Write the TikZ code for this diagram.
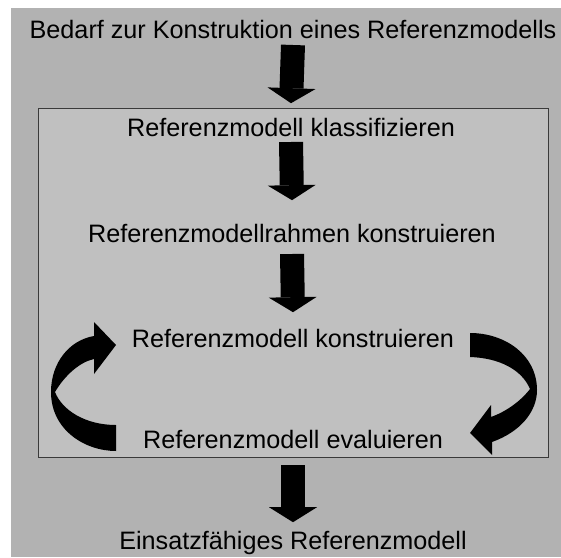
\documentclass[tikz,border=0pt]{standalone}
\usepackage{fontspec}
\setmainfont{Liberation Sans}
\usetikzlibrary{arrows.meta}
\definecolor{outergray}{HTML}{B2B2B2}
\definecolor{innergray}{HTML}{C0C0C0}
\definecolor{framegray}{HTML}{3A3A3A}
\begin{document}
\begin{tikzpicture}[x=0.5pt,y=-0.5pt,
  every node/.style={font=\fontsize{12.6}{15}\selectfont, inner sep=0pt, text height=9pt, text depth=0pt, anchor=south},
  blockarrow/.style={line width=12pt, -{Triangle[length=7.5pt,width=24pt,line width=0pt]}}]
\useasboundingbox (0,0) rectangle (561,557);
\fill[white] (0,0) rectangle (561,557);
\fill[outergray] (11,8) rectangle (561,557);
\draw[line width=0.5pt, draw=framegray, fill=innergray] (38,108) rectangle (548,457);
% steps
\node (bedarf) at (293,39) {Bedarf zur Konstruktion eines Referenzmodells};
\node (klass) at (291,137) {Referenzmodell klassifizieren};
\node (rahmen) at (292,243) {Referenzmodellrahmen konstruieren};
\node (konstr) at (293,348) {Referenzmodell konstruieren};
\node (eval) at (293,449) {Referenzmodell evaluieren};
\node (einsatz) at (293,550) {Einsatzfähiges Referenzmodell};
\draw[blockarrow] ([yshift=-3pt]bedarf.south) -- ([yshift=7.5pt]klass.north);
\draw[blockarrow] ([yshift=-2.5pt]klass.south) -- ([yshift=12pt]rahmen.north);
\draw[blockarrow] ([yshift=-5.5pt]rahmen.south) -- ([yshift=8.5pt]konstr.north);
\draw[blockarrow] ([yshift=-8pt]eval.south) -- ([yshift=4.5pt]einsatz.north);
% curved arrows of the cycle
\fill (116,451) -- (116,425) .. controls (85,425) and (62,410) .. (55,392)
  .. controls (65,375) and (80,362) .. (94,359) -- (94,374) -- (116,345) -- (94,322) -- (94,336)
  .. controls (70,340) and (51,362) .. (51,392) .. controls (51,430) and (85,451) .. (116,451) -- cycle;
\fill (470,333) -- (470,357) .. controls (500,358) and (522,370) .. (530,389)
  .. controls (520,402) and (505,412) .. (491,417) -- (491,405) -- (470,433) -- (492,455) -- (492,442)
  .. controls (520,432) and (537,412) .. (537,390) .. controls (537,355) and (505,333) .. (470,333) -- cycle;
\end{tikzpicture}
\end{document}
